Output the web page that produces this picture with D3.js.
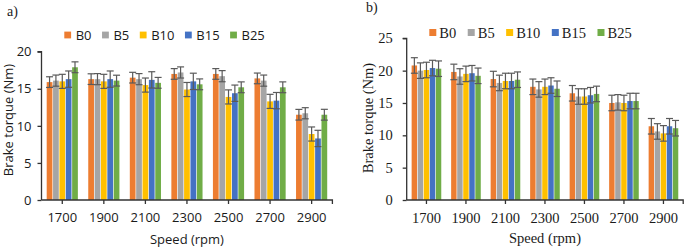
<!DOCTYPE html>
<html><head><meta charset="utf-8">
<script src="https://cdn.jsdelivr.net/npm/d3@7"></script>
<style>html,body{margin:0;padding:0;background:#fff;}svg{display:block;}</style>
</head><body>
<svg id="c" width="685" height="248"></svg>
<script>
const categories = ["1700","1900","2100","2300","2500","2700","2900"];
const seriesNames = ["B0","B5","B10","B15","B25"];
const colors = ["#ED7D31","#A5A5A5","#FFC000","#4472C4","#70AD47"];

// Panel a) values
const aB0  = [15.9, 16.3, 16.5, 17.0, 17.0, 16.4, 11.5];
const aB5  = [16.1, 16.3, 16.3, 17.2, 16.7, 16.1, 11.7];
const aB10 = [16.0, 16.0, 15.5, 14.9, 13.9, 13.3, 8.9];
const aB15 = [16.3, 16.3, 16.2, 16.0, 14.4, 13.4, 8.3];
const aB25 = [17.9, 16.1, 15.8, 15.6, 15.2, 15.2, 11.5];
const aErr = [0.72, 0.75, 0.95, 1.1, 0.73];
const aTicks = [0, 5, 10, 15, 20];

// Panel b) values
const bB0  = [20.8, 19.8, 18.7, 17.5, 16.5, 15.0, 11.4];
const bB5  = [20.0, 19.1, 18.1, 17.1, 16.0, 15.1, 10.6];
const bB10 = [20.1, 19.5, 18.4, 17.5, 16.0, 15.0, 10.3];
const bB15 = [20.4, 19.6, 18.4, 17.7, 16.2, 15.3, 11.4];
const bB25 = [20.3, 19.2, 18.6, 17.2, 16.4, 15.3, 11.1];
const bErr = [1.2, 1.2, 1.2, 1.2, 1.2];
const bTicks = [0, 5, 10, 15, 20, 25];

const svg = d3.select("#c");

function panel(cfg) {
  const g = svg.append("g").style("font-family", cfg.font).attr("fill", "#1a1a1a");
  const x0 = d3.scaleBand().domain(categories).range([cfg.x0, cfg.x1]).paddingInner(0.25).paddingOuter(0.125);
  const x1 = d3.scaleBand().domain(seriesNames).range([0, x0.bandwidth()]).paddingInner(0.1);
  const y = d3.scaleLinear().domain([0, cfg.ymax]).range([cfg.yb, cfg.yt]);
  const flat = [];
  cfg.data.forEach((vals, si) => vals.forEach((v, ci) => flat.push({s: seriesNames[si], c: categories[ci], v, e: cfg.err[si], col: colors[si]})));

  g.selectAll("rect.bar").data(flat).join("rect").attr("class","bar")
    .attr("x", d => x0(d.c) + x1(d.s)).attr("width", x1.bandwidth())
    .attr("y", d => y(d.v)).attr("height", d => y(0) - y(d.v)).attr("fill", d => d.col);

  const eb = g.selectAll("g.eb").data(flat).join("g").attr("class","eb")
    .attr("stroke", "#5a5a5a").attr("stroke-width", 1.2);
  const cx = d => x0(d.c) + x1(d.s) + x1.bandwidth()/2;
  eb.append("line").attr("x1", cx).attr("x2", cx).attr("y1", d => y(d.v + d.e)).attr("y2", d => y(d.v - d.e));
  eb.append("line").attr("x1", d => cx(d)-3.5).attr("x2", d => cx(d)+3.5).attr("y1", d => y(d.v + d.e)).attr("y2", d => y(d.v + d.e));
  eb.append("line").attr("x1", d => cx(d)-3.5).attr("x2", d => cx(d)+3.5).attr("y1", d => y(d.v - d.e)).attr("y2", d => y(d.v - d.e));

  // y axis
  const ya = g.append("g").attr("transform", `translate(${cfg.x0},0)`)
    .call(d3.axisLeft(y).tickValues(cfg.ticks).tickSize(4).tickPadding(cfg.tickPad).tickFormat(d3.format("d")));
  ya.select(".domain").attr("stroke", "#333").attr("stroke-width", 1.3).attr("d", `M-4,${cfg.yt}H0V${cfg.yb}`);
  ya.selectAll(".tick line").attr("stroke", "#333").attr("stroke-width", 1.3);
  ya.selectAll(".tick text").attr("fill", "#1a1a1a").style("font-size", cfg.fs + "px").style("font-family", cfg.font);

  // x axis
  const xa = g.append("g").attr("transform", `translate(0,${cfg.yb})`)
    .call(d3.axisBottom(x0).tickSize(4).tickPadding(cfg.xPad));
  xa.select(".domain").attr("stroke", "#333").attr("stroke-width", 1.3).attr("d", `M${cfg.x0},0H${cfg.x1}V4`);
  xa.selectAll(".tick line").attr("stroke", "#333").attr("stroke-width", 1.3);
  xa.selectAll(".tick text").attr("fill", "#1a1a1a").style("font-size", cfg.fs + "px").style("font-family", cfg.font);

  // axis titles
  g.append("text").attr("x", (cfg.x0 + cfg.x1)/2 + cfg.xtDx).attr("y", cfg.xtY).attr("text-anchor", "middle")
    .style("font-size", cfg.fs + "px").text("Speed (rpm)");
  g.append("text").attr("transform", `translate(${cfg.ytX},${cfg.ytY}) rotate(-90)`).attr("text-anchor", "middle")
    .style("font-size", cfg.fs + "px").text("Brake torque (Nm)");

  // panel label
  g.append("text").attr("x", cfg.lblX).attr("y", cfg.lblY).style("font-family", "Liberation Serif")
    .style("font-size", "14px").text(cfg.label);

  // legend
  const leg = g.append("g");
  let lx = cfg.legX;
  seriesNames.forEach((s, i) => {
    leg.append("rect").attr("x", lx).attr("y", cfg.legY - cfg.sq/2).attr("width", cfg.sq).attr("height", cfg.sq).attr("fill", colors[i]);
    const t = leg.append("text").attr("x", lx + cfg.sq + cfg.sqGap).attr("y", cfg.legY + cfg.legBase)
      .style("font-size", cfg.fs + "px").text(s);
    lx += cfg.sq + cfg.sqGap + t.node().getComputedTextLength() + cfg.itemGap;
  });
}

panel({
  font: "'Open Sans', sans-serif", fs: 13,
  data: [aB0, aB5, aB10, aB15, aB25], err: aErr, ticks: aTicks, ymax: 20,
  x0: 41.5, x1: 332.4, yb: 200, yt: 51.7, tickPad: 6, xPad: 9,
  xtDx: 0, xtY: 244, ytX: 13, ytY: 120,
  lblX: 7, lblY: 16, label: "a)",
  legX: 64.3, legY: 35, legBase: 4.7, sq: 6.8, sqGap: 4.6, itemGap: 10.5
});

panel({
  font: "'Liberation Serif', 'Times New Roman', serif", fs: 14.5,
  data: [bB0, bB5, bB10, bB15, bB25], err: bErr, ticks: bTicks, ymax: 25,
  x0: 406.7, x1: 683.2, yb: 200, yt: 38.3, tickPad: 10, xPad: 9,
  xtDx: 0, xtY: 243, ytX: 373, ytY: 118,
  lblX: 366, lblY: 12, label: "b)",
  legX: 429.3, legY: 32.5, legBase: 5, sq: 7, sqGap: 3, itemGap: 11.5
});
</script>
</body></html>
